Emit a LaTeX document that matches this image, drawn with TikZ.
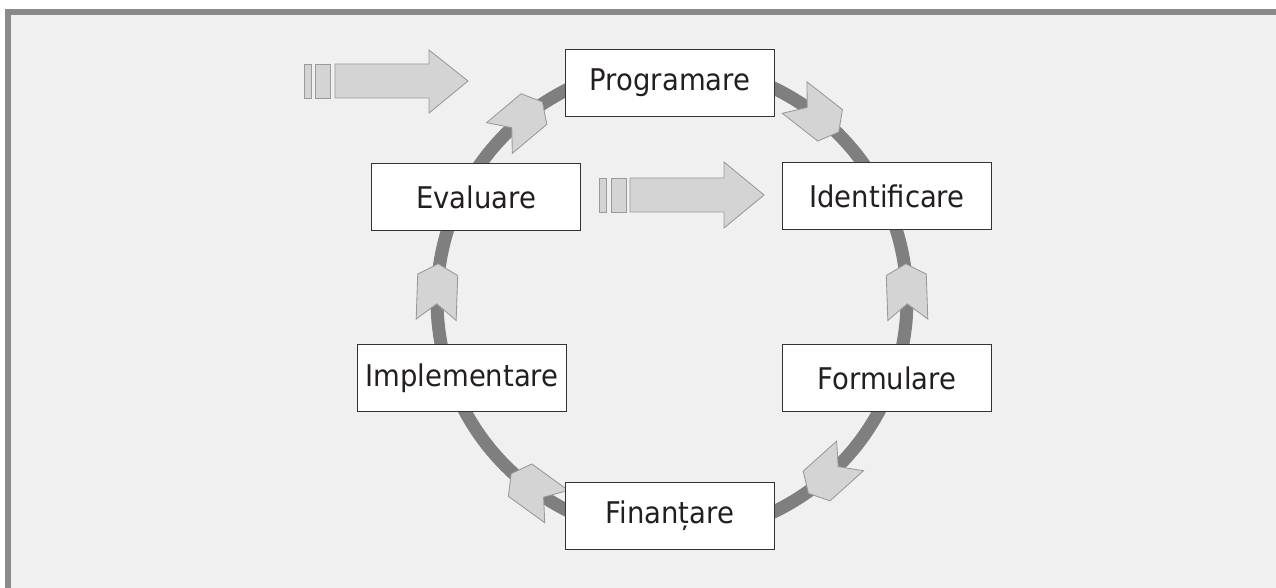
\documentclass[tikz,border=0pt]{standalone}
\usepackage{fontspec}
\setmainfont{DejaVu Sans}[FakeStretch=0.92]
\definecolor{bgc}{HTML}{F0F0F0}
\definecolor{framec}{HTML}{8A8A8A}
\definecolor{ringc}{HTML}{7F7F7F}
\definecolor{chevfill}{HTML}{D4D4D4}
\definecolor{chevline}{HTML}{9A9A9A}
\definecolor{boxline}{HTML}{333333}
\definecolor{textc}{HTML}{231F20}
\tikzset{
  box/.style={draw=boxline, fill=white, line width=0.6pt, minimum width=4.18cm, minimum height=1.34cm, inner sep=0pt, text=textc, font=\fontsize{17}{20}\selectfont},
  chev/.style={fill=chevfill, draw=chevline, line width=0.5pt, line join=miter},
  ring/.style={draw=ringc, line width=0.26cm},
}
\newcommand{\mychev}[2]{%
  \begin{scope}[shift={(672,-300)}, rotate=#1, shift={(235,0)}, rotate=#2]
    \draw[chev] (28,0) -- (17,20) -- (-28,20) -- (-12,0) -- (-28,-20) -- (17,-20) -- cycle;
  \end{scope}}
\begin{document}
\begin{tikzpicture}[x=0.02cm, y=0.02cm]
\useasboundingbox (0,0) rectangle (1276,-588);
\fill[white] (0,0) rectangle (1276,-588);
\fill[bgc] (5,-9) rectangle (1276,-588);
\fill[framec] (5,-9) rectangle (1276,-15);
\fill[framec] (5,-9) rectangle (11,-588);
% ring
\draw[ring] (672,-300) circle (235);
% chevrons on ring
\mychev{130}{-90}
\mychev{52}{-90}
\mychev{2}{90}
\mychev{-48}{-90}
\mychev{234}{-90}
\mychev{178}{-90}
% boxes
\node[box] (prog) at (670,-83) {Programare};
\node[box] (ident) at (887,-196) {Identificare};
\node[box] (eval) at (476,-197) {Evaluare};
\node[box] (impl) at (462,-378) {Implementare};
\node[box] (form) at (887,-378) {Formulare};
\node[box] (fin) at (670,-516) {Finanțare};
% big arrows
\draw[chev] (304,-64) rectangle (311,-98);
\draw[chev] (315,-64) rectangle (330,-98);
\draw[chev] (335,-64) -- (429,-64) -- (429,-50) -- (468,-81) -- (429,-113) -- (429,-98) -- (335,-98) -- cycle;
\draw[chev] (599,-178) rectangle (606,-212);
\draw[chev] (611,-178) rectangle (626,-212);
\draw[chev] (630,-178) -- (724,-178) -- (724,-162) -- (764,-195) -- (724,-228) -- (724,-212) -- (630,-212) -- cycle;
\end{tikzpicture}
\end{document}
